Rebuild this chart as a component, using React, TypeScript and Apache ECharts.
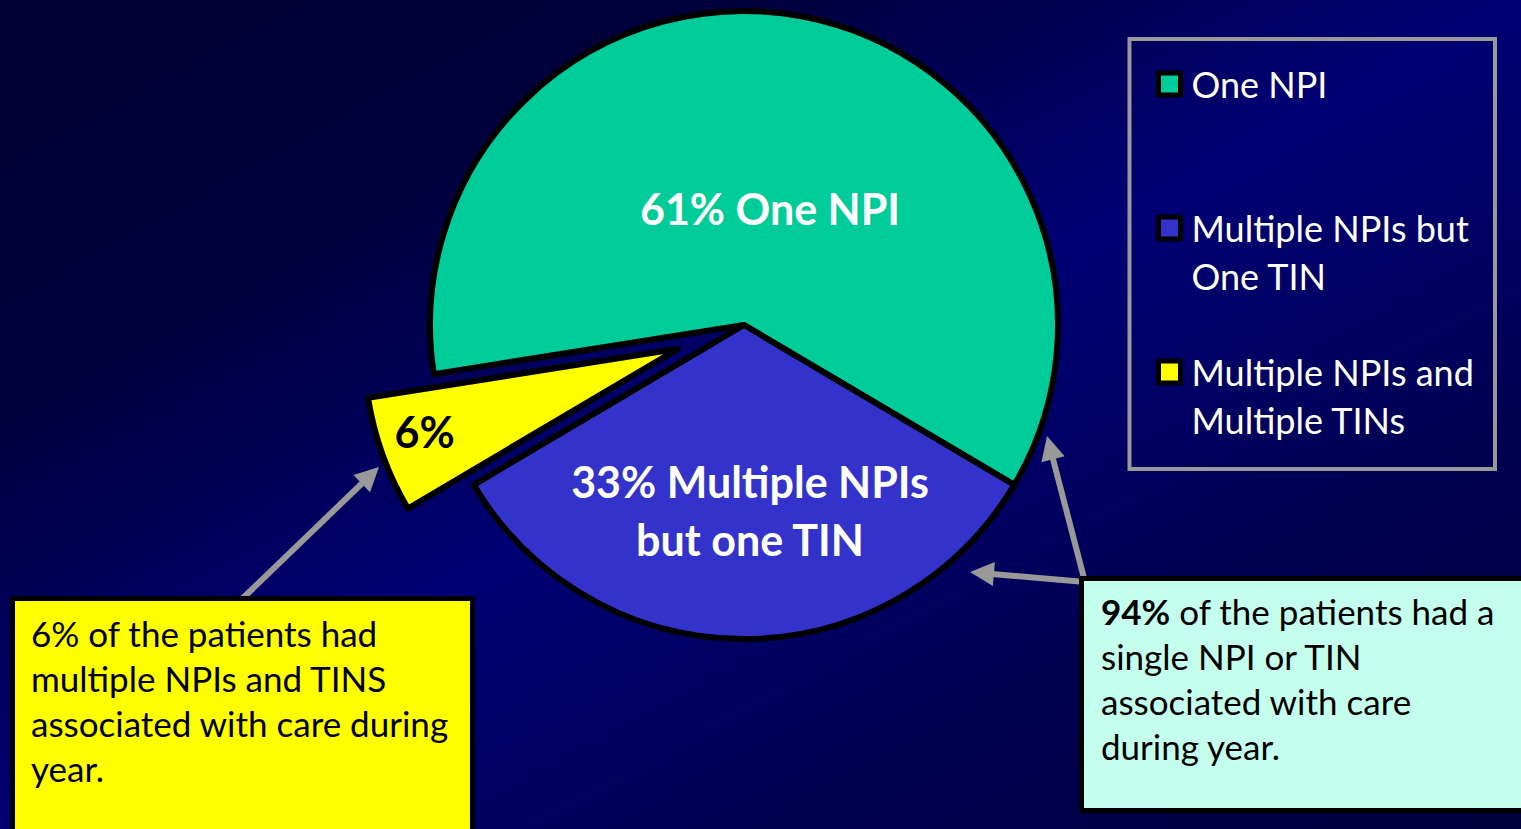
import React, { useEffect, useRef } from "react";
import * as echarts from "echarts";

// Share of patients by number of NPIs / TINs associated with their care
const categories = [
  "One NPI",
  "Multiple NPIs but One TIN",
  "Multiple NPIs and Multiple TINs",
];
const shares = [61, 33, 6];
const sliceColors = ["#00CC99", "#3333CC", "#FFFF00"];
const sliceLabelText = ["One NPI", "Multiple NPIs\nbut one TIN", ""];
const legendLabelText = [
  "One NPI",
  "Multiple NPIs but\nOne TIN",
  "Multiple NPIs and\nMultiple TINs",
];
const noteLeft = [
  "6% of the patients had",
  "multiple NPIs and TINS",
  "associated with care during",
  "year.",
];
const noteRightLead = "94%";
const noteRight = [
  " of the patients had a",
  "single NPI or TIN",
  "associated with care",
  "during year.",
];

const FONT = "Lato, 'Open Sans', sans-serif";

function arrow(x1: number, y1: number, x2: number, y2: number) {
  const len = Math.hypot(x2 - x1, y2 - y1);
  const ux = (x2 - x1) / len;
  const uy = (y2 - y1) / len;
  const headLen = 24;
  const headHalf = 12;
  const bx = x2 - ux * headLen;
  const by = y2 - uy * headLen;
  const px = -uy;
  const py = ux;
  return [
    {
      type: "line",
      z: 50,
      shape: { x1, y1, x2: bx + ux * 2, y2: by + uy * 2 },
      style: { stroke: "#999999", lineWidth: 6 },
    },
    {
      type: "polygon",
      z: 50,
      shape: {
        points: [
          [x2, y2],
          [bx + px * headHalf, by + py * headHalf],
          [bx - px * headHalf, by - py * headHalf],
        ],
      },
      style: { fill: "#999999" },
    },
  ];
}

export default function App() {
  const ref = useRef<HTMLDivElement>(null);

  useEffect(() => {
    if (!ref.current) return;
    const chart = echarts.init(ref.current, undefined, { renderer: "svg" });

    // label anchors for the two slices that stay in place
    const labelPos: Record<number, number[]> = {
      0: [770, 208],
      1: [750, 510],
    };

    const option: any = {
      animation: false,
      legend: {
        orient: "vertical",
        left: 1156,
        top: 12,
        padding: 0,
        itemGap: 0,
        itemWidth: 22,
        itemHeight: 22,
        icon: "rect",
        selectedMode: false,
        data: categories,
        itemStyle: { borderColor: "#000000", borderWidth: 5 },
        formatter: (name: string) => {
          const i = categories.indexOf(name);
          const lines = legendLabelText[i].split("\n");
          // one blank line above keeps the icon level with the first line
          return lines.length > 1 ? "\n" + lines.join("\n") : "\n" + lines[0] + "\n";
        },
        textStyle: {
          color: "#ffffff",
          fontFamily: FONT,
          fontSize: 36,
          lineHeight: 48,
          padding: [0, 0, 0, 6],
        },
      },
      graphic: [
        {
          type: "rect",
          z: -100,
          shape: { x: 0, y: 0, width: 1521, height: 829 },
          style: {
            fill: new echarts.graphic.LinearGradient(0, 0, 1, 1, [
              { offset: 0, color: "#000034" },
              { offset: 0.25, color: "#00003c" },
              { offset: 0.5, color: "#000074" },
              { offset: 0.8, color: "#00004c" },
              { offset: 1, color: "#00003c" },
            ]),
          },
        },
        {
          type: "rect",
          z: 10,
          shape: { x: 1129.5, y: 39, width: 365.5, height: 430 },
          style: { fill: "transparent", stroke: "#999999", lineWidth: 4 },
        },
        ...arrow(243, 598, 379, 467),
        ...arrow(1085, 582, 1047, 436),
        ...arrow(1085, 582, 970, 572),
        {
          type: "rect",
          z: 60,
          shape: { x: 12.5, y: 598.5, width: 460, height: 270 },
          style: { fill: "#FFFF00", stroke: "#000000", lineWidth: 5 },
        },
        {
          type: "text",
          z: 61,
          x: 31,
          y: 610,
          style: {
            text: noteLeft.join("\n"),
            fill: "#000000",
            fontFamily: FONT,
            fontSize: 35,
            lineHeight: 45,
            verticalAlign: "top",
          },
        },
        {
          type: "rect",
          z: 60,
          shape: { x: 1081.5, y: 578.5, width: 480, height: 232 },
          style: { fill: "#C4FFEE", stroke: "#000000", lineWidth: 5 },
        },
        {
          type: "text",
          z: 61,
          x: 1101,
          y: 588,
          style: {
            text: `{b|${noteRightLead}}{r|${noteRight[0]}}\n{r|${noteRight
              .slice(1)
              .join("}\n{r|")}}`,
            fill: "#000000",
            fontFamily: FONT,
            fontSize: 35,
            lineHeight: 45,
            verticalAlign: "top",
            rich: {
              b: { fontFamily: FONT, fontSize: 35, fontWeight: "bold", lineHeight: 45, fill: "#000000" },
              r: { fontFamily: FONT, fontSize: 35, lineHeight: 45, fill: "#000000" },
            },
          },
        },
      ],
      series: [
        {
          type: "pie",
          center: [744, 325],
          radius: 314,
          startAngle: 189,
          clockwise: true,
          selectedMode: "single",
          selectedOffset: 70,
          z: 5,
          emphasis: { disabled: true },
          itemStyle: { borderColor: "#000000", borderWidth: 6 },
          label: {
            show: true,
            position: "inside",
            color: "#ffffff",
            fontFamily: FONT,
            fontWeight: "bold",
            fontSize: 43,
            lineHeight: 58,
            align: "center",
            formatter: (p: any) => {
              const t = sliceLabelText[p.dataIndex];
              return t ? `${p.value}% ${t}` : `${p.value}%`;
            },
          },
          labelLine: { show: false },
          labelLayout: (p: any) =>
            labelPos[p.dataIndex]
              ? {
                  x: labelPos[p.dataIndex][0],
                  y: labelPos[p.dataIndex][1],
                  align: "center",
                  verticalAlign: "middle",
                }
              : {},
          data: categories.map((name, i) => ({
            name,
            value: shares[i],
            selected: i === 2,
            itemStyle: { color: sliceColors[i] },
            // the pulled-out slice keeps its own label state, so its text is
            // nudged toward the outer rim
            label:
              i === 2
                ? {
                    color: "#000000",
                    formatter: (p: any) => `{gap|}\n${p.value}%`,
                    rich: { gap: { height: 58, lineHeight: 58 } },
                    padding: [0, 206, 0, 0],
                  }
                : undefined,
          })),
        },
      ],
    };

    chart.setOption(option);
    return () => chart.dispose();
  }, []);

  return (
    <div
      ref={ref}
      style={{ position: "absolute", left: 0, top: 0, width: 1521, height: 829 }}
    />
  );
}
